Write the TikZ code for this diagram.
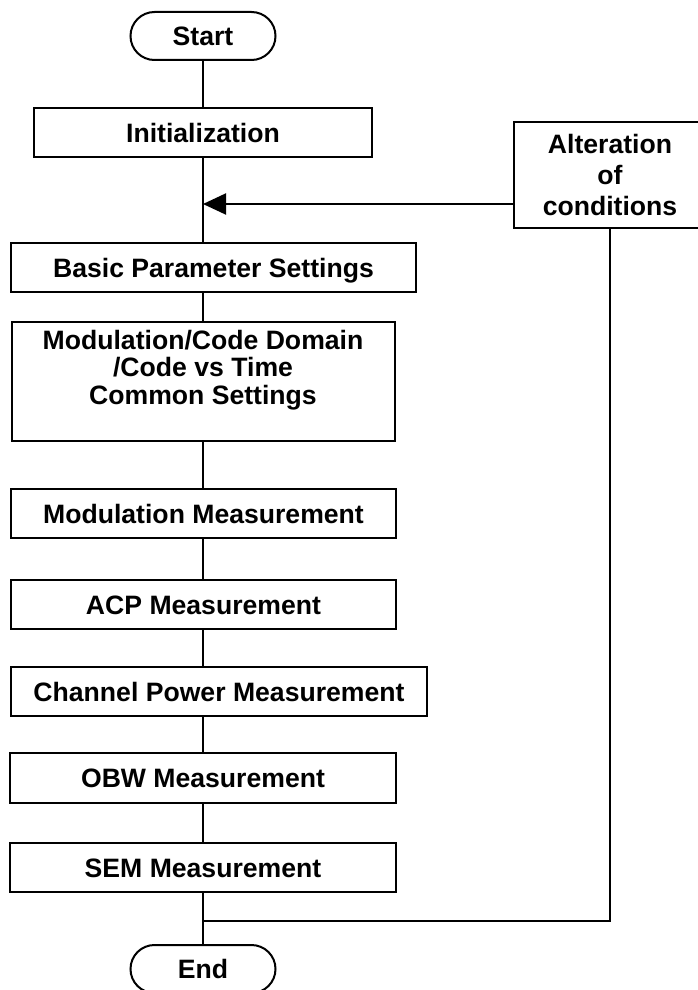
\documentclass[tikz,border=0pt]{standalone}
\usepackage{fontspec}
\setmainfont{Liberation Sans}
\usetikzlibrary{arrows.meta}

\begin{document}
\begin{tikzpicture}[x=1pt,y=-1pt,
  line width=2pt,
  lbl/.style={font=\fontsize{26.6}{27.5}\selectfont\bfseries, inner sep=0pt},
  procbox/.style={lbl, draw, rectangle, text height=19pt, text depth=0pt},
  terminal/.style={procbox, rounded corners=24pt, minimum width=145pt, minimum height=48pt},
  flow/.style={draw, line width=2pt},
  flowarrow/.style={flow, -{Triangle[length=23pt,width=21pt]}}
]
\useasboundingbox (0,0) rectangle (697,990);

% terminals
\node[terminal] (start) at (203,36)  {Start};
\node[terminal] (end)   at (203,969) {End};

% process steps
\node[procbox, minimum width=338pt, minimum height=49pt] (init)    at (203,132.5)   {Initialization};
\node[procbox, minimum width=405pt, minimum height=49pt] (basic)   at (213.5,267.5) {Basic Parameter Settings};
\node[draw, rectangle, minimum width=383pt, minimum height=119pt, inner sep=0pt] (modset) at (203,381.5) {};
\node[lbl, align=center] (modsettext) at (203,370)
  {Modulation/Code Domain\\/Code vs Time\\Common Settings};
\node[procbox, minimum width=385pt, minimum height=49pt] (modmeas) at (203.5,513.5) {Modulation Measurement};
\node[procbox, minimum width=385pt, minimum height=49pt] (acp)     at (203.5,604.5) {ACP Measurement};
\node[procbox, minimum width=416pt, minimum height=49pt] (chan)    at (219,691.5)   {Channel Power Measurement};
\node[procbox, minimum width=386pt, minimum height=50pt] (obw)     at (203,778)     {OBW Measurement};
\node[procbox, minimum width=386pt, minimum height=49pt] (sem)     at (203,867.5)   {SEM Measurement};

% loop-back box
\node[lbl, draw, rectangle, align=center, minimum width=192pt, minimum height=106pt,
      font=\fontsize{26.6}{31}\selectfont\bfseries] (alt) at (610,175)
  {Alteration\\of\\conditions};

% junction points on the main line
\coordinate (merge) at (203,204);
\coordinate (split) at (203,921);

% main flow
\draw[flow] (start.south) -- (init.north);
\draw[flow] (init.south) -- (init.south |- basic.north);
\draw[flow] (init.south |- basic.south) -- (modset.north);
\draw[flow] (modset.south) -- (modset.south |- modmeas.north);
\draw[flow] (modset.south |- modmeas.south) -- (modset.south |- acp.north);
\draw[flow] (modset.south |- acp.south) -- (modset.south |- chan.north);
\draw[flow] (modset.south |- chan.south) -- (obw.north);
\draw[flow] (obw.south) -- (sem.north);
\draw[flow] (sem.south) -- (end.north);

% loop back
\draw[flow] (split) -- (alt.south |- split) -- (alt.south);
\draw[flowarrow] (alt.west |- merge) -- (merge);
\end{tikzpicture}
\end{document}
